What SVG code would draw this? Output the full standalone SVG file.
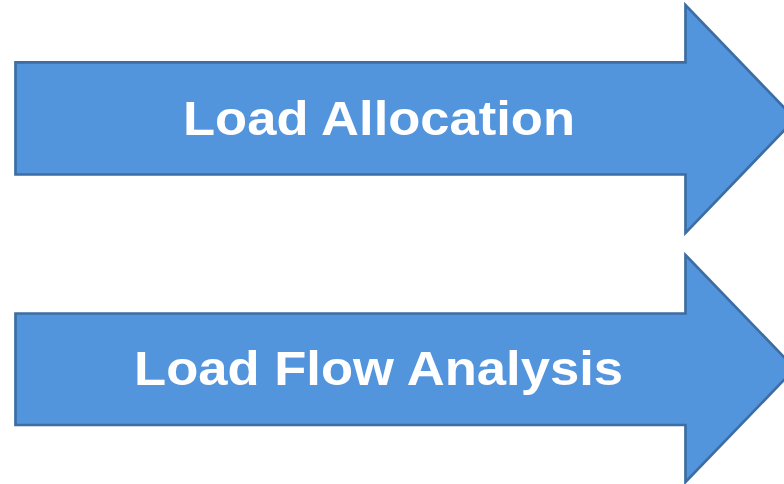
<svg xmlns="http://www.w3.org/2000/svg" width="784" height="484" viewBox="0 0 784 484">
  <style>
    .arrow { fill: #5395DD; stroke: #3C6EA4; stroke-width: 2.7; stroke-linejoin: miter; }
    .label { fill: #FFFFFF; font-family: "Liberation Sans", Arial, sans-serif; font-weight: bold; font-size: 48.5px; text-anchor: middle; }
  </style>
  <rect width="784" height="484" fill="#FFFFFF"/>

  <!-- Step 1 -->
  <g id="load-allocation">
    <path class="arrow" d="M15.5,62.3 L685.5,62.3 L685.5,5 L795,119 L685.5,233 L685.5,174.5 L15.5,174.5 Z"/>
    <text class="label" x="379" y="135" textLength="392" lengthAdjust="spacingAndGlyphs">Load Allocation</text>
  </g>

  <!-- Step 2 -->
  <g id="load-flow-analysis">
    <path class="arrow" d="M15.5,313.5 L685.5,313.5 L685.5,255 L795,368.5 L685.5,482 L685.5,425 L15.5,425 Z"/>
    <text class="label" x="378.5" y="385" textLength="489" lengthAdjust="spacingAndGlyphs">Load Flow Analysis</text>
  </g>

  <g id="connectors"/>
</svg>
